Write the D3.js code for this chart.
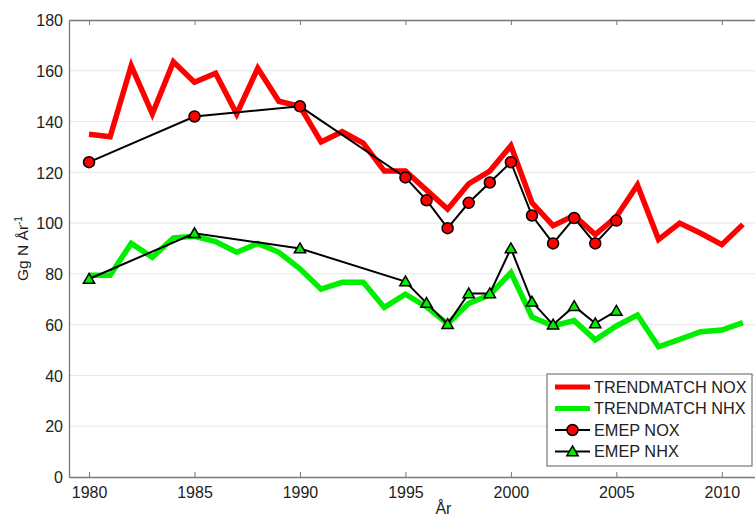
<!DOCTYPE html>
<html>
<head>
<meta charset="utf-8">
<script src="https://cdn.jsdelivr.net/npm/d3@7"></script>
<style>
  body { margin: 0; background: #fff; }
  svg { display: block; font-family: "Liberation Sans", Arial, sans-serif; }
</style>
</head>
<body>
<svg width="755" height="516"></svg>
<script>
const years = d3.range(1980, 2012);
const trendNox = [135, 134, 162, 143, 163.5, 155.5, 159, 143, 161, 148, 146, 132, 136, 131.5, 120.5, 120.5,
  113, 105.5, 115.5, 120.5, 130.5, 108, 99, 103, 95.5, 102.5, 115, 93.5, 100, 96, 91.5, 99.5];
const trendNhx = [79.5, 79.5, 92, 86.5, 94.2, 94.8, 92.7, 88.5, 92, 88.5, 82, 74, 76.7, 76.7, 66.8, 72,
  67, 60.3, 68.4, 71.7, 80.5, 63, 59.5, 61.6, 54, 59.5, 63.8, 51.3, 54.2, 57.2, 57.9, 60.8];
const emepYears = [1980, 1985, 1990, 1995, 1996, 1997, 1998, 1999, 2000, 2001, 2002, 2003, 2004, 2005];
const emepNox = [124, 142, 146, 118, 109, 98, 108, 116, 124, 103, 92, 102, 92, 101];
const emepNhx = [78, 96, 90, 77, 68.5, 60.2, 72.3, 72.3, 90, 69, 60, 67.3, 60.5, 65.4];
const xTicks = [1980, 1985, 1990, 1995, 2000, 2005, 2010];
const yTicks = [0, 20, 40, 60, 80, 100, 120, 140, 160, 180];

const margin = { left: 69, top: 20, right: -9, bottom: 39 };
const W = 755, H = 516;
const svg = d3.select("svg");

const x = d3.scaleLinear().domain([1979.05, 2012]).range([margin.left, W - margin.right]);
const y = d3.scaleLinear().domain([0, 180]).range([H - margin.bottom, margin.top]);

// grid
svg.append("g")
  .selectAll("line")
  .data(yTicks.slice(1, -1))
  .enter()
  .append("line")
  .attr("x1", margin.left)
  .attr("x2", W)
  .attr("y1", d => y(d))
  .attr("y2", d => y(d))
  .attr("stroke", "#e6e6e6")
  .attr("stroke-width", 1);

// axes frame
const xb = svg.append("g")
  .attr("transform", `translate(0,${y(0)})`)
  .call(d3.axisBottom(x).tickValues(xTicks).tickFormat(d3.format("d")).tickSizeInner(-5).tickSizeOuter(0).tickPadding(10));
const xt = svg.append("g")
  .attr("transform", `translate(0,${y(180)})`)
  .call(d3.axisTop(x).tickValues(xTicks).tickSizeInner(-5).tickSizeOuter(0).tickFormat(""));
const yl = svg.append("g")
  .attr("transform", `translate(${margin.left},0)`)
  .call(d3.axisLeft(y).tickValues(yTicks).tickSizeInner(0).tickSizeOuter(0).tickPadding(6));

[xb, xt, yl].forEach(g => {
  g.selectAll(".domain").attr("stroke", "#777").attr("stroke-width", 1.3);
  g.selectAll(".tick line").attr("stroke", "#777");
  g.selectAll("text").attr("fill", "#222").style("font-size", "16px")
    .style("font-family", "'Liberation Sans', Arial, sans-serif");
});
yl.selectAll("text").attr("dy", "0.36em");

// lines
const line = d3.line().x(d => x(d[0])).y(d => y(d[1]));

svg.append("path")
  .datum(years.map((yr, i) => [yr, trendNox[i]]))
  .attr("d", line)
  .attr("fill", "none")
  .attr("stroke", "#ff0000")
  .attr("stroke-width", 5.5)
  .attr("stroke-linejoin", "miter");

svg.append("path")
  .datum(years.map((yr, i) => [yr, trendNhx[i]]))
  .attr("d", line)
  .attr("fill", "none")
  .attr("stroke", "#00ee00")
  .attr("stroke-width", 5.5)
  .attr("stroke-linejoin", "miter");

const noxPts = emepYears.map((yr, i) => [yr, emepNox[i]]);
const nhxPts = emepYears.map((yr, i) => [yr, emepNhx[i]]);

svg.append("path")
  .datum(noxPts)
  .attr("d", line)
  .attr("fill", "none")
  .attr("stroke", "#000")
  .attr("stroke-width", 2);

svg.append("g")
  .selectAll("circle")
  .data(noxPts)
  .enter()
  .append("circle")
  .attr("cx", d => x(d[0]))
  .attr("cy", d => y(d[1]))
  .attr("r", 5.5)
  .attr("fill", "#ff0000")
  .attr("stroke", "#000")
  .attr("stroke-width", 1.5);

svg.append("path")
  .datum(nhxPts)
  .attr("d", line)
  .attr("fill", "none")
  .attr("stroke", "#000")
  .attr("stroke-width", 2);

const tri = d3.symbol().type(d3.symbolTriangle).size(55);
svg.append("g")
  .selectAll("path")
  .data(nhxPts)
  .enter()
  .append("path")
  .attr("d", tri)
  .attr("transform", d => `translate(${x(d[0])},${y(d[1]) + 1})`)
  .attr("fill", "#00ee00")
  .attr("stroke", "#000")
  .attr("stroke-width", 1.5);

// axis labels
svg.append("text")
  .attr("x", x(1996.8))
  .attr("y", 514)
  .attr("text-anchor", "middle")
  .style("font-size", "16px")
  .attr("fill", "#222")
  .text("År");

const ylab = svg.append("text")
  .attr("transform", `translate(28,${y(90)}) rotate(-90)`)
  .attr("text-anchor", "middle")
  .style("font-size", "15.5px")
  .attr("fill", "#222");
ylab.append("tspan").text("Gg N År");
ylab.append("tspan").attr("dy", -6).style("font-size", "10px").text("-1");

// legend
const lg = svg.append("g").attr("transform", "translate(547,374)");
lg.append("rect")
  .attr("width", 205)
  .attr("height", 92)
  .attr("fill", "#fff")
  .attr("stroke", "#777")
  .attr("stroke-width", 1.2);

const legendItems = [
  { label: "TRENDMATCH NOX", color: "#ff0000", kind: "thick" },
  { label: "TRENDMATCH NHX", color: "#00ee00", kind: "thick" },
  { label: "EMEP NOX", color: "#ff0000", kind: "circle" },
  { label: "EMEP NHX", color: "#00ee00", kind: "tri" }
];

const item = lg.selectAll("g.item")
  .data(legendItems)
  .enter()
  .append("g")
  .attr("class", "item")
  .attr("transform", (d, i) => `translate(0,${13 + i * 21.5})`);

item.append("line")
  .attr("x1", 8).attr("x2", 43)
  .attr("stroke", d => d.kind === "thick" ? d.color : "#000")
  .attr("stroke-width", d => d.kind === "thick" ? 5 : 2);

item.filter(d => d.kind === "circle")
  .append("circle")
  .attr("cx", 25.5).attr("r", 5.5)
  .attr("fill", d => d.color)
  .attr("stroke", "#000").attr("stroke-width", 1.5);

item.filter(d => d.kind === "tri")
  .append("path")
  .attr("d", tri)
  .attr("transform", "translate(25.5,1)")
  .attr("fill", d => d.color)
  .attr("stroke", "#000").attr("stroke-width", 1.5);

item.append("text")
  .attr("x", 47)
  .attr("dy", "0.36em")
  .style("font-size", "16.3px")
  .attr("fill", "#222")
  .text(d => d.label);
</script>
</body>
</html>
